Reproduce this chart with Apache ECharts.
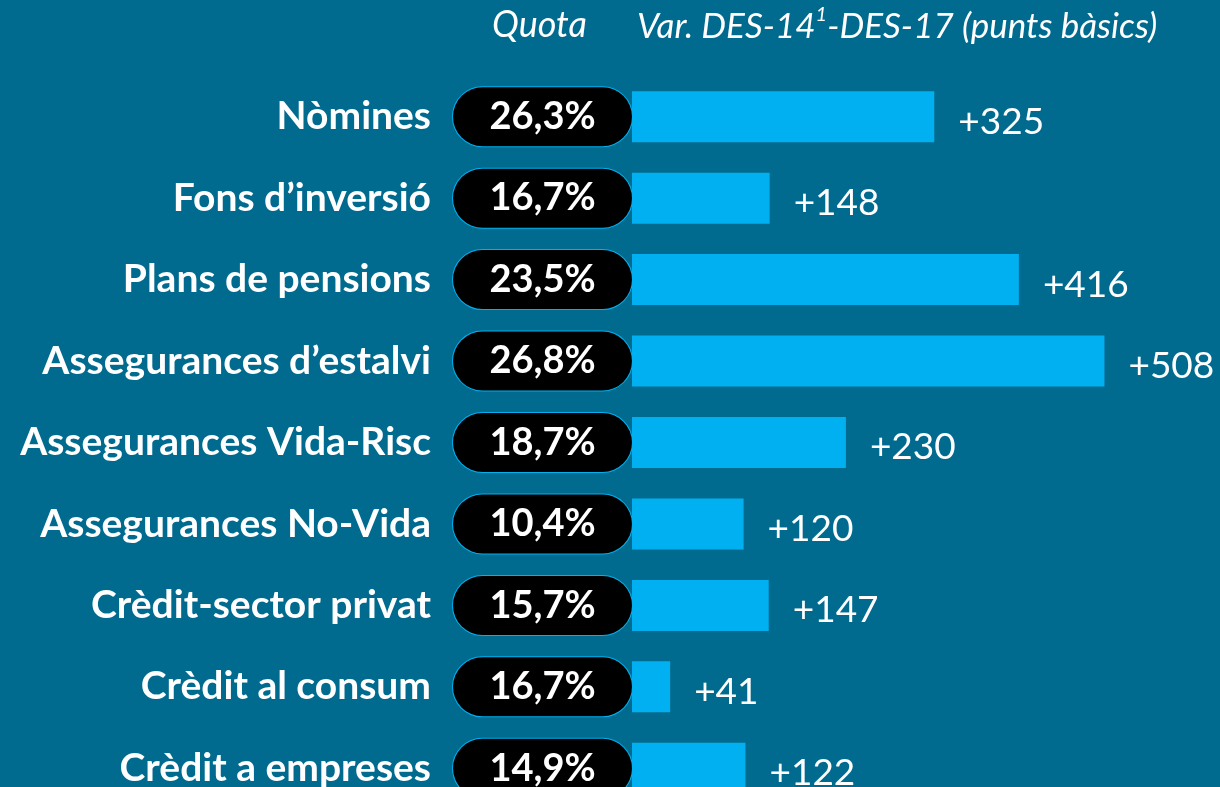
<!DOCTYPE html>
<html>
<head>
<meta charset="utf-8">
<script src="https://cdn.jsdelivr.net/npm/echarts@6/dist/echarts.min.js"></script>
<style>
  html, body { margin: 0; padding: 0; background: #006b8f; }
  #chart { width: 1220px; height: 787px; }
</style>
</head>
<body>
<div id="chart"></div>
<script>
// dades
const categories = [
  "Nòmines",
  "Fons d’inversió",
  "Plans de pensions",
  "Assegurances d’estalvi",
  "Assegurances Vida-Risc",
  "Assegurances No-Vida",
  "Crèdit-sector privat",
  "Crèdit al consum",
  "Crèdit a empreses"
];
const quotas = ["26,3%", "16,7%", "23,5%", "26,8%", "18,7%", "10,4%", "15,7%", "16,7%", "14,9%"];
const variations = [325, 148, 416, 508, 230, 120, 147, 41, 122];

const font = "Lato, 'Open Sans', sans-serif";

const chart = echarts.init(document.getElementById("chart"));

const option = {
  backgroundColor: "#006b8f",
  title: [
    {
      text: "Quota",
      left: 487,
      top: 2,
      textStyle: { color: "#fff", fontSize: 36, fontStyle: "italic", fontWeight: "normal", fontFamily: font }
    },
    {
      text: "{a|Var. DES-14}{s|1}{a|-DES-17 (punts bàsics)}",
      left: 632,
      top: 0,
      textStyle: {
        fontWeight: "normal",
        rich: {
          a: { color: "#fff", fontSize: 35, fontStyle: "italic", fontWeight: "normal", fontFamily: font, lineHeight: 44 },
          s: { color: "#fff", fontSize: 20, fontStyle: "italic", fontWeight: "normal", fontFamily: font, verticalAlign: "top", lineHeight: 36 }
        }
      }
    }
  ],
  // la darrera fila queda tallada per la vora inferior
  grid: { left: 632, right: 30, top: 76, height: 733, outerBoundsMode: "none" },
  xAxis: {
    type: "value",
    min: 0,
    max: 600,
    show: false
  },
  yAxis: {
    type: "category",
    data: categories,
    inverse: true,
    axisLine: { show: false },
    axisTick: { show: false },
    axisLabel: {
      margin: 0,
      formatter: (name, idx) => `{n|${name}}{g|}{p|${quotas[idx]}}`,
      rich: {
        n: { color: "#fff", fontSize: 39, fontWeight: "bold", fontFamily: font },
        g: { width: 22 },
        p: {
          color: "#fff",
          fontSize: 38,
          fontWeight: "bold",
          fontFamily: font,
          backgroundColor: "#000",
          borderColor: "#00b0f0",
          borderWidth: 1,
          borderRadius: 30,
          width: 179,
          height: 59,
          align: "center",
          verticalAlign: "middle"
        }
      }
    }
  },
  series: [
    {
      type: "bar",
      data: variations,
      barWidth: 51,
      itemStyle: { color: "#00b0f0" },
      label: {
        show: true,
        position: "right",
        distance: 24,
        offset: [0, 5],
        formatter: (p) => "+" + p.value,
        color: "#fff",
        fontSize: 37,
        fontFamily: font
      }
    }
  ]
};

chart.setOption(option);
</script>
</body>
</html>
